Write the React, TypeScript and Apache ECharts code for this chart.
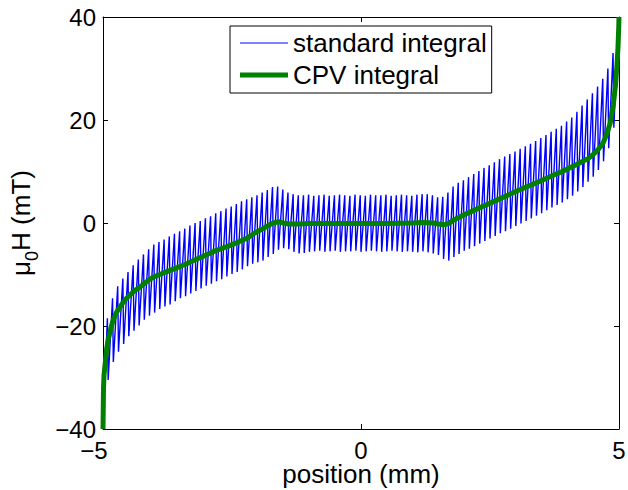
import React, { useEffect, useRef } from "react";
import * as echarts from "echarts";

const FONT = "'Liberation Sans', Arial, Helvetica, sans-serif";

const X_MIN = -5;
const X_MAX = 5;
const X_STEP = 5;
const Y_MIN = -40;
const Y_MAX = 40;
const Y_STEP = 20;

const SERIES_NAMES = ["standard integral", "CPV integral"];

// standard integral: one sawtooth period every 0.1 mm
// troughs at x = -5 + 0.1k, peaks at x = -4.915 + 0.1k (k = 0..99)
const STD_PERIOD = 0.1;
const STD_PEAK_PHASE = 0.085;
const STD_LOWS = [
  -40, -30.5, -27, -25, -23.5, -22, -20.9, -19.9, -18.8, -18,
  -17.4, -16.7, -16.2, -15.8, -15.2, -14.6, -14.2, -13.7, -13.2, -12.7,
  -12.2, -11.8, -11.3, -10.9, -10.4, -9.9, -9.5, -9.0, -8.4, -7.9,
  -7.6, -7.3, -6.6, -6.0, -5.2, -4.9, -5.1, -5.6, -5.9, -5.8,
  -5.6, -5.5, -5.4, -5.6, -5.5, -5.4, -5.6, -5.5, -5.5, -5.4,
  -5.6, -5.5, -5.4, -5.5, -5.6, -5.5, -5.4, -5.5, -5.6, -5.5,
  -5.6, -5.7, -5.5, -5.7, -5.9, -6.2, -7.0, -7.3, -6.6, -6.0,
  -5.4, -5.0, -4.5, -4.0, -3.5, -3.0, -2.5, -2.0, -1.6, -1.1,
  -0.6, -0.1, 0.4, 0.9, 1.4, 1.9, 2.5, 3.0, 3.5, 4.0,
  4.6, 5.3, 6.1, 7.0, 8.0, 9.0, 10.3, 12.0, 14.5, 18.5,
];
const STD_PEAKS = [
  -18.5, -14.6, -12.3, -10.8, -9.5, -8.2, -7.1, -6.1, -5.1, -4.2,
  -3.7, -3.2, -2.6, -2.1, -1.6, -1.1, -0.5, 0.0, 0.4, 0.9,
  1.3, 1.9, 2.3, 2.8, 3.2, 3.7, 4.2, 4.6, 5.0, 5.4,
  5.9, 6.4, 7.0, 7.1, 6.5, 5.9, 5.6, 5.4, 5.4, 5.5,
  5.3, 5.4, 5.5, 5.3, 5.4, 5.5, 5.4, 5.3, 5.5, 5.4,
  5.3, 5.5, 5.4, 5.4, 5.5, 5.3, 5.4, 5.5, 5.4, 5.3,
  5.5, 5.6, 5.6, 5.4, 5.0, 5.1, 5.9, 7.1, 7.8, 8.3,
  8.9, 9.5, 10.1, 10.7, 11.2, 11.8, 12.4, 12.9, 13.4, 13.9,
  14.4, 14.9, 15.4, 15.9, 16.5, 17.1, 17.7, 18.3, 18.9, 19.7,
  20.5, 21.6, 22.8, 24.0, 25.2, 26.5, 28.0, 30.0, 33.0, 38.0,
];
const STD_END = [5, 40];

// CPV integral
const CPV_X = [
  -5, -4.995, -4.99, -4.98, -4.96, -4.93, -4.9, -4.85, -4.8, -4.74,
  -4.67, -4.58, -4.48, -4.38, -4.28, -4.18, -4.09, -4.0, -3.9, -3.8,
  -3.6, -3.4, -3.2, -3.0, -2.8, -2.6, -2.4, -2.2, -2.05, -1.9,
  -1.8, -1.7, -1.6, -1.5, -1.4, -1.2, -1.0, -0.5, 0, 0.5,
  1.0, 1.2, 1.4, 1.5, 1.6, 1.7, 1.8, 2.0, 2.2, 2.4,
  2.6, 2.8, 3.0, 3.2, 3.4, 3.6, 3.8, 3.9, 4.0, 4.17,
  4.3, 4.4, 4.5, 4.6, 4.69, 4.76, 4.83, 4.89, 4.93, 4.96,
  4.98, 4.995, 5,
];
const CPV_Y = [
  -40, -36, -32, -29.5, -27.5, -24.5, -22.7, -20.5, -18.8, -17.4,
  -16.3, -15.0, -14.0, -13.1, -12.4, -11.6, -10.9, -10.4, -10.0, -9.6,
  -8.8, -8.0, -7.1, -6.2, -5.3, -4.6, -3.8, -2.9, -1.9, -1.1,
  -0.5, 0.0, 0.25, 0.0, -0.2, -0.2, -0.1, -0.1, -0.1, -0.1,
  0.0, 0.1, 0.0, -0.2, -0.35, -0.1, 0.6, 1.6, 2.5, 3.4,
  4.3, 5.2, 6.1, 7.0, 7.8, 8.7, 9.6, 10.0, 10.5, 11.3,
  12.0, 12.5, 13.3, 14.3, 15.5, 17.2, 19.4, 23.0, 26.5, 30.5,
  34, 38, 40,
];

const minusFmt = (v: number) => (v < 0 ? "\u2212" + Math.abs(v) : String(v));

export default function App() {
  const ref = useRef<HTMLDivElement>(null);

  useEffect(() => {
    if (!ref.current) return;
    const chart = echarts.init(ref.current, undefined, { renderer: "svg" });

    const stdData: number[][] = [];
    STD_LOWS.forEach((lo, k) => {
      const x0 = X_MIN + STD_PERIOD * k;
      stdData.push([Number(x0.toFixed(4)), lo]);
      stdData.push([Number((x0 + STD_PEAK_PHASE).toFixed(4)), STD_PEAKS[k]]);
    });
    stdData.push(STD_END);

    const cpvData = CPV_X.map((x, i) => [x, CPV_Y[i]]);

    const axisLine = { show: true, onZero: false, lineStyle: { color: "#000", width: 1 } };
    const axisTick = { show: true, inside: true, length: 5, lineStyle: { color: "#000", width: 1 } };

    const option: any = {
      animation: false,
      backgroundColor: "#ffffff",
      textStyle: { fontFamily: FONT },
      grid: {
        left: 103,
        top: 17,
        width: 516,
        height: 412,
        containLabel: false,
        outerBoundsMode: "none",
      },
      legend: {
        orient: "vertical",
        left: 230,
        top: 26,
        itemWidth: 48,
        itemHeight: 14,
        itemGap: 6,
        padding: [4, 5, 5, 10],
        backgroundColor: "#ffffff",
        borderColor: "#000",
        borderWidth: 1,
        borderRadius: 0,
        selectedMode: false,
        itemStyle: { borderWidth: 0 },
        textStyle: { fontSize: 26, color: "#000", fontFamily: FONT },
        data: [
          { name: SERIES_NAMES[0], icon: "path://M0 0H48V1H0Z" },
          { name: SERIES_NAMES[1], icon: "path://M0 0H48V5H0Z" },
        ],
      },
      xAxis: [
        {
          type: "value",
          position: "bottom",
          min: X_MIN,
          max: X_MAX,
          interval: X_STEP,
          axisLine,
          axisTick,
          splitLine: { show: false },
          axisLabel: {
            fontSize: 24,
            lineHeight: 20,
            color: "#000",
            fontFamily: FONT,
            margin: 11,
            formatter: (v: number) => (v < 0 ? `{n|${minusFmt(v)}}` : minusFmt(v)),
            rich: {
              n: { fontSize: 24, lineHeight: 20, color: "#000", fontFamily: FONT, padding: [0, 18, 0, 0] },
            },
          },
          name: "position (mm)",
          nameLocation: "middle",
          nameGap: 32,
          nameMoveOverlap: false,
          nameTextStyle: { fontSize: 26, color: "#000", fontFamily: FONT },
        },
        {
          type: "value",
          position: "top",
          min: X_MIN,
          max: X_MAX,
          interval: X_STEP,
          axisLine,
          axisTick,
          splitLine: { show: false },
          axisLabel: { show: false },
        },
      ],
      yAxis: [
        {
          type: "value",
          position: "left",
          min: Y_MIN,
          max: Y_MAX,
          interval: Y_STEP,
          axisLine,
          axisTick,
          splitLine: { show: false },
          axisLabel: {
            fontSize: 24,
            lineHeight: 20,
            color: "#000",
            fontFamily: FONT,
            margin: 7,
            formatter: minusFmt,
          },
          name: "{a|\u03bc}{s|0}{a|H (mT)}",
          nameLocation: "middle",
          nameGap: 62,
          nameRotate: 90,
          nameMoveOverlap: false,
          nameTextStyle: {
            fontSize: 26,
            color: "#000",
            fontFamily: FONT,
            rich: {
              a: { fontSize: 26, color: "#000", fontFamily: FONT },
              s: { fontSize: 18, color: "#000", fontFamily: FONT, padding: [22, 0, 0, 0] },
            },
          },
        },
        {
          type: "value",
          position: "right",
          min: Y_MIN,
          max: Y_MAX,
          interval: Y_STEP,
          axisLine,
          axisTick,
          splitLine: { show: false },
          axisLabel: { show: false },
        },
      ],
      series: [
        {
          type: "line",
          name: SERIES_NAMES[0],
          data: stdData,
          xAxisIndex: 0,
          yAxisIndex: 0,
          symbol: "none",
          showSymbol: false,
          silent: true,
          z: 2,
          lineStyle: { color: "#0000ff", width: 1.4 },
          itemStyle: { color: "#0000ff" },
          emphasis: { disabled: true },
        },
        {
          type: "line",
          name: SERIES_NAMES[1],
          data: cpvData,
          xAxisIndex: 0,
          yAxisIndex: 0,
          symbol: "none",
          showSymbol: false,
          silent: true,
          z: 3,
          lineStyle: { color: "#008000", width: 5, join: "round" },
          itemStyle: { color: "#008000" },
          emphasis: { disabled: true },
        },
      ],
    };

    chart.setOption(option);
    return () => chart.dispose();
  }, []);

  return (
    <div
      ref={ref}
      style={{ position: "absolute", left: 0, top: 0, width: 628, height: 490, background: "#fff" }}
    />
  );
}
